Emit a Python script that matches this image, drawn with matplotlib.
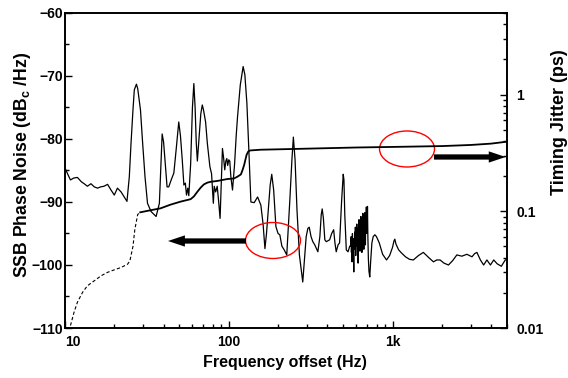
import matplotlib
matplotlib.use('Agg')
import matplotlib.pyplot as plt
from matplotlib.patches import Ellipse
from matplotlib.ticker import FixedLocator, FixedFormatter, LogLocator, NullFormatter, MultipleLocator

# ---------------- data ----------------
pn_freq = [10.0, 10.4, 10.8, 11.3, 11.9, 12.6, 13.1, 13.7, 14.4, 15.1, 15.8, 16.5, 17.3, 18.2,
           19.1, 20.0, 20.9, 22.0, 23.0, 23.9,
           24.7, 25.3, 26.0, 26.5, 27.3, 27.8, 28.9, 29.8, 30.8, 31.9, 33.5, 36.0, 37.7, 38.6,
           39.2, 40.0, 41.1, 42.0, 43.0, 44.5, 46.2, 47.8, 49.5, 50.7, 52.0, 53.2, 54.3, 55.2,
           56.2, 57.0, 58.5, 60.0, 61.2, 62.3, 63.3, 64.3, 65.8, 67.5, 68.9, 70.0, 72.2, 74.0,
           76.7, 78.5, 79.5, 80.5, 81.5, 83.2, 85.0, 86.8, 88.5, 90.0, 91.5, 93.0, 94.5, 96.0,
           97.3, 98.5, 100.0, 101.4, 103.0, 105.4, 108.5, 111.0, 113.1, 117.6, 122.4, 125.4,
           129.0, 132.6, 136.5, 143.0, 150.0, 157.0, 162.0, 166.3, 170.0, 174.0, 179.0, 183.0,
           188.0, 194.0, 200.0, 205.0, 211.0, 218.0, 226.0, 236.0, 243.0, 248.0, 254.0, 261.0,
           270.0, 283.0, 290.0, 297.0, 304.0, 310.0, 318.0, 326.0, 335.0, 350.0, 360.0, 367.0,
           372.0, 378.0, 386.0, 394.0, 413.0, 425.0, 437.0, 445.0, 453.0, 465.0, 475.0, 489.0,
           500.0, 505.0, 511.0, 522.0, 535.0, 548.0, 556.0,
           559, 561, 564, 566, 569, 572, 575, 578, 580, 582, 585, 588, 590, 593, 596, 599, 602,
           605, 607, 610, 613, 616, 619, 621, 624, 627, 630, 633, 636, 639, 641, 644, 647, 650,
           653, 656, 659, 662, 665, 668, 671, 674, 677, 680, 683, 686, 689, 692, 695, 698, 701,
           703, 707, 712,
           718, 726, 735, 748, 762, 780, 798, 830, 870, 919, 960, 1000, 1020, 1033, 1050, 1090,
           1135, 1200, 1270, 1340, 1440, 1542, 1660, 1778, 1860, 1951, 2060, 2196, 2330, 2470,
           2650, 2846, 3055, 3170, 3275, 3440, 3600, 3770, 3960, 4150, 4350, 4617, 4880, 5000]
pn_db = [-84.6, -85.6, -86.5, -86.2, -86.1, -86.8, -87.1, -87.5, -87.1, -87.6, -87.8, -87.6, -87.5, -87.2,
         -88.1, -88.9, -87.8, -88.4, -89.2, -89.9,
         -86.0, -80.7, -75.4, -72.2, -71.3, -72.0, -75.4, -80.7, -86.0, -90.2, -91.5, -92.3, -90.2, -83.3,
         -79.2, -80.5, -84.4, -87.6, -87.6, -86.5, -85.4, -81.5, -77.3, -79.5, -83.3, -87.3, -87.0, -88.9,
         -87.8, -89.0, -84.0, -75.0, -71.2, -75.0, -80.5, -83.5, -80.0, -76.0, -74.6, -75.3, -77.3, -80.7,
         -84.4, -85.5, -88.0, -90.2, -87.5, -88.4, -87.5, -90.0, -92.6, -87.0, -81.5, -83.0, -84.9, -83.5,
         -83.1, -84.2, -83.3, -83.5, -86.0, -88.1, -84.0, -79.5, -76.5, -71.4, -68.5, -69.8,
         -74.3, -81.7, -90.0, -90.1, -89.2, -90.5, -93.5, -97.4, -95.0, -91.5, -87.3, -85.6,
         -88.1, -93.9, -95.0, -95.2, -97.0, -97.6, -98.4, -89.7, -83.3, -79.7, -83.3, -91.3,
         -98.4, -102.7, -99.0, -95.5, -94.2, -94.0, -95.5, -96.3, -96.8, -97.9, -95.5, -92.0,
         -91.1, -92.5, -96.0, -96.3, -96.0, -95.0, -94.4, -96.5, -97.9, -96.8, -96.5, -89.7,
         -85.6, -86.5, -92.0, -97.6, -97.9, -97.0, -97.0,
         -95.5, -98.0, -96.0, -99.5, -95.0, -97.0, -95.8, -99.0, -101.1, -96.5, -97.5, -94.8,
         -96.5, -94.0, -98.5, -96.0, -97.0, -93.5, -95.5, -94.2, -97.0, -99.7, -95.0, -96.0,
         -92.8, -95.5, -94.0, -97.8, -93.0, -95.0, -92.3, -96.5, -94.5, -98.0, -92.5, -94.0,
         -91.8, -96.0, -93.0, -97.5, -92.0, -94.5, -91.7, -93.5, -96.8, -92.0, -93.8, -90.8,
         -95.0, -92.5, -94.0, -90.7, -95.5, -99.0,
         -101.0, -101.9, -99.5, -96.5, -95.5, -95.2, -95.5, -96.5, -98.3,
         -99.2, -98.5, -97.2, -96.2, -95.9, -96.7, -97.6, -98.1, -98.7, -99.1, -99.2, -98.5,
         -98.0, -98.8, -99.5, -99.2, -99.2, -99.7, -100.0, -99.3, -98.4, -98.6, -98.3, -98.7,
         -98.2, -98.0, -99.2, -100.0, -99.2, -100.0, -99.2, -99.8, -100.2, -99.2, -99.1]

jit_dash_freq = [10.8, 11.35, 11.9, 12.8, 13.7, 15.1, 16.6, 18.2, 20.0, 22.0, 24.1, 24.9, 26.0,
                 26.7, 27.8, 28.8]
jit_dash_ps = [0.0105, 0.0136, 0.0166, 0.0202, 0.0230, 0.0254, 0.028, 0.030, 0.0315, 0.033,
               0.0352, 0.0376, 0.050, 0.070, 0.094, 0.098]

jit_freq = [28.8, 33.2, 38.3, 44.1, 50.8, 58.5, 61.2, 64.3, 67.5, 70.5, 74.0, 77.6, 85.3, 98.0,
            107.6, 113.0, 118.6, 121.3, 124.2, 128.5, 131.5, 134.8, 157.0, 250.0, 600.0, 1000.0,
            2000.0, 3000.0, 4000.0, 5000.0]
jit_ps = [0.098, 0.102, 0.106, 0.114, 0.121, 0.127, 0.134, 0.147, 0.160, 0.170, 0.176, 0.179,
          0.182, 0.189, 0.191, 0.198, 0.207, 0.225, 0.250, 0.305, 0.325, 0.332, 0.337, 0.342,
          0.352, 0.356, 0.362, 0.370, 0.380, 0.395]

x_ticks = [10, 100, 1000]
x_tick_labels = ['10', '100', '1k']
left_ticks = [-110, -100, -90, -80, -70, -60]
right_ticks = [0.01, 0.1, 1]
right_tick_labels = ['0.01', '0.1', '1']

# ---------------- style ----------------
plt.rcParams['font.family'] = ['Liberation Sans', 'DejaVu Sans']
plt.rcParams['font.weight'] = 'bold'
plt.rcParams['mathtext.fontset'] = 'custom'
plt.rcParams['mathtext.rm'] = 'Liberation Sans:bold'
plt.rcParams['mathtext.it'] = 'Liberation Sans:bold'
plt.rcParams['mathtext.bf'] = 'Liberation Sans:bold'

fig = plt.figure(figsize=(5.68, 3.78), dpi=100)
ax = fig.add_axes([65 / 568, 1 - 328 / 378, 442 / 568, 315 / 378])
ax.set_xscale('log')
ax.set_xlim(10, 5000)
ax.set_ylim(-110, -60)
ax.plot(pn_freq, pn_db, color='black', lw=0.9)

ax.xaxis.set_major_locator(FixedLocator(x_ticks))
ax.xaxis.set_major_formatter(FixedFormatter(x_tick_labels))
ax.xaxis.set_minor_locator(LogLocator(base=10, subs=range(2, 10)))
ax.xaxis.set_minor_formatter(NullFormatter())
ax.yaxis.set_major_locator(FixedLocator(left_ticks))
ax.yaxis.set_minor_locator(MultipleLocator(5))
ax.tick_params(which='both', direction='in', top=False, right=False, width=1.0)
ax.tick_params(which='major', length=5, labelsize=10)
ax.tick_params(which='minor', length=3)
ax.tick_params(axis='y', which='major', pad=1.5)
ax.tick_params(axis='x', which='major', pad=5)
for sp in ax.spines.values():
    sp.set_linewidth(1.2)

ax2 = ax.twinx()
ax2.set_yscale('log')
ax2.set_ylim(0.01, 5)
ax2.plot(jit_dash_freq, jit_dash_ps, color='black', lw=0.8, ls=(0, (3, 2)))
ax2.plot(jit_freq, jit_ps, color='black', lw=1.3)
ax2.yaxis.set_major_locator(FixedLocator(right_ticks))
ax2.yaxis.set_major_formatter(FixedFormatter(right_tick_labels))
ax2.yaxis.set_minor_locator(LogLocator(base=10, subs=range(2, 10)))
ax2.yaxis.set_minor_formatter(NullFormatter())
ax2.tick_params(which='both', direction='in', width=1.0)
ax2.tick_params(which='major', length=5, labelsize=10, pad=6.5)
ax2.tick_params(which='minor', length=3)
for sp in ax2.spines.values():
    sp.set_linewidth(1.2)

ax.set_xlabel('Frequency offset (Hz)', fontsize=11.5, fontweight='bold')
ax.xaxis.set_label_coords(0.497, -0.0857)
ax.set_ylabel('SSB Phase Noise (dB$_{\\rm c}$ /Hz)', fontsize=12.7, fontweight='bold',
              va='center', ha='center')
ax.yaxis.set_label_coords(-0.097, 0.517)
ax2.set_ylabel('Timing Jitter (ps)', fontsize=13, fontweight='bold', va='center', ha='center')
ax2.yaxis.set_label_coords(1.118, 0.655)

fig.canvas.draw()
ax.xaxis.get_major_ticks()[0].label1.set_horizontalalignment('left')

# annotations
for (cx, cy) in [(0.4706, 0.2778), (0.7738, 0.5683)]:
    ax2.add_patch(Ellipse((cx, cy), 0.1244, 0.1143, transform=ax2.transAxes,
                          fill=False, edgecolor='red', lw=1.0))
arrow_style = 'simple,head_length=0.87,head_width=0.58,tail_width=0.27'
ax2.annotate('', xy=(0.233, 0.2762), xytext=(0.4095, 0.2762), xycoords='axes fraction',
             arrowprops=dict(arrowstyle=arrow_style, mutation_scale=14, fc='black',
                             ec='black', lw=0, shrinkA=0, shrinkB=0))
ax2.annotate('', xy=(0.997, 0.5429), xytext=(0.8348, 0.5429), xycoords='axes fraction',
             arrowprops=dict(arrowstyle=arrow_style, mutation_scale=14, fc='black',
                             ec='black', lw=0, shrinkA=0, shrinkB=0))

fig.savefig('out.png', dpi=100)
